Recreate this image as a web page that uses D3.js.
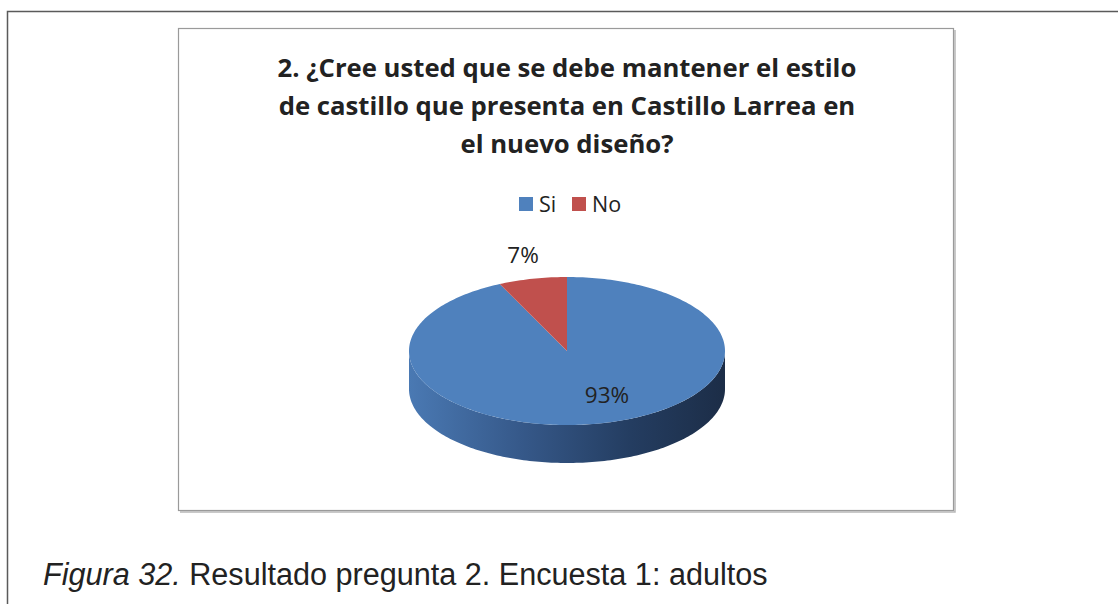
<!DOCTYPE html>
<html>
<head>
<meta charset="utf-8">
<script src="https://cdn.jsdelivr.net/npm/d3@7"></script>
<style>
  html, body { margin: 0; padding: 0; background: #fff; }
  svg { display: block; }
</style>
</head>
<body>
<div id="chart"></div>
<script>
var categories = ['Si', 'No'],
    values = [93, 7],
    colors = ['#4f81bd', '#c0504d'],
    titleLines = ['2. ¿Cree usted que se debe mantener el estilo',
                  'de castillo que presenta en Castillo Larrea en',
                  'el nuevo diseño?'],
    caption = ['Figura 32.', ' Resultado pregunta 2. Encuesta 1: adultos'];

var W = 1118, H = 604,
    svg = d3.select('#chart').append('svg')
        .attr('width', W)
        .attr('height', H),
    defs = svg.append('defs');

// outer page frame
svg.append('path')
    .attr('d', 'M7.5,604 L7.5,11.5 L1118,11.5')
    .attr('fill', 'none')
    .attr('stroke', '#5a5a5a')
    .attr('stroke-width', 1.5);

// chart area box with a little shadow on right/bottom
svg.append('path')
    .attr('d', 'M955,30 L955,512 L180,512')
    .attr('fill', 'none')
    .attr('stroke', '#b8b8b8')
    .attr('stroke-width', 1.5);
svg.append('rect')
    .attr('x', 178.5).attr('y', 28.5)
    .attr('width', 775).attr('height', 482)
    .attr('fill', '#fff')
    .attr('stroke', '#9a9a9a')
    .attr('stroke-width', 1.2);

// title
var title = svg.append('text')
    .attr('text-anchor', 'middle')
    .style('font-family', '"Open Sans", sans-serif')
    .style('font-weight', 'bold')
    .style('font-size', '25.7px')
    .attr('fill', '#222');
titleLines.forEach(function(line, i) {
    title.append('tspan')
        .attr('x', 567)
        .attr('y', 77 + i*38)
        .text(line);
});

// legend
var legend = svg.append('g').selectAll('.legend')
    .data(categories)
    .enter()
    .append('g')
    .attr('class', 'legend')
    .attr('transform', function(d, i) { return 'translate(' + (519 + i*53) + ',197)'; });
legend.append('rect')
    .attr('width', 14)
    .attr('height', 14)
    .attr('fill', function(d, i) { return colors[i]; });
legend.append('text')
    .attr('x', 20)
    .attr('y', 15)
    .style('font-family', '"Open Sans", sans-serif')
    .style('font-size', '21.5px')
    .attr('fill', '#222')
    .text(function(d) { return d; });

// 3D pie: angles from d3.pie, projected onto an ellipse
var cx = 567, cy = 351, rx = 158, ry = 74, depth = 38;
var pie = d3.pie().sort(null).value(function(d) { return d; });
var arcs = pie(values);

var proj = function(a, dy) {
    return [cx + rx*Math.sin(a), cy - ry*Math.cos(a) + (dy || 0)];
};
var arcPts = function(a0, a1, dy) {
    var n = Math.max(2, Math.ceil(Math.abs(a1 - a0) / 0.02)),
        pts = [];
    for (var k = 0; k <= n; k++) pts.push(proj(a0 + (a1 - a0)*k/n, dy));
    return pts;
};
var line = d3.line();

var grad = defs.append('linearGradient')
    .attr('id', 'side')
    .attr('gradientUnits', 'userSpaceOnUse')
    .attr('x1', cx - rx).attr('x2', cx + rx)
    .attr('y1', 0).attr('y2', 0);
[[0, '#4a79b3'], [0.35, '#36598a'], [0.7, '#243d61'], [1, '#1c2d47']].forEach(function(s) {
    grad.append('stop').attr('offset', s[0]).attr('stop-color', s[1]);
});

// side walls: only the front half (PI/2 .. 3PI/2) is visible
var pieG = svg.append('g');
arcs.forEach(function(d) {
    var a0 = Math.max(d.startAngle, Math.PI/2),
        a1 = Math.min(d.endAngle, 3*Math.PI/2);
    if (a1 <= a0) return;
    var pts = arcPts(a0, a1, 0).concat(arcPts(a1, a0, depth));
    pieG.append('path')
        .attr('d', line(pts) + 'Z')
        .attr('fill', 'url(#side)');
});

// top faces
arcs.forEach(function(d, i) {
    var pts = [[cx, cy]].concat(arcPts(d.startAngle, d.endAngle, 0));
    pieG.append('path')
        .attr('d', line(pts) + 'Z')
        .attr('fill', colors[i]);
});

// data labels
var total = d3.sum(values),
    labelPos = [[607, 403], [523, 263]];
svg.append('g').selectAll('text')
    .data(arcs)
    .enter()
    .append('text')
    .attr('x', function(d, i) { return labelPos[i][0]; })
    .attr('y', function(d, i) { return labelPos[i][1]; })
    .attr('text-anchor', 'middle')
    .style('font-family', '"Open Sans", sans-serif')
    .style('font-size', '22.5px')
    .attr('fill', '#222')
    .text(function(d) { return Math.round(d.value/total*100) + '%'; });

// figure caption
var cap = svg.append('text')
    .attr('x', 43)
    .attr('y', 585)
    .style('font-family', '"Liberation Sans", Arial, sans-serif')
    .style('font-size', '30.6px')
    .attr('fill', '#222');
cap.append('tspan').style('font-style', 'italic').text(caption[0]);
cap.append('tspan').text(caption[1]);
</script>
</body>
</html>
